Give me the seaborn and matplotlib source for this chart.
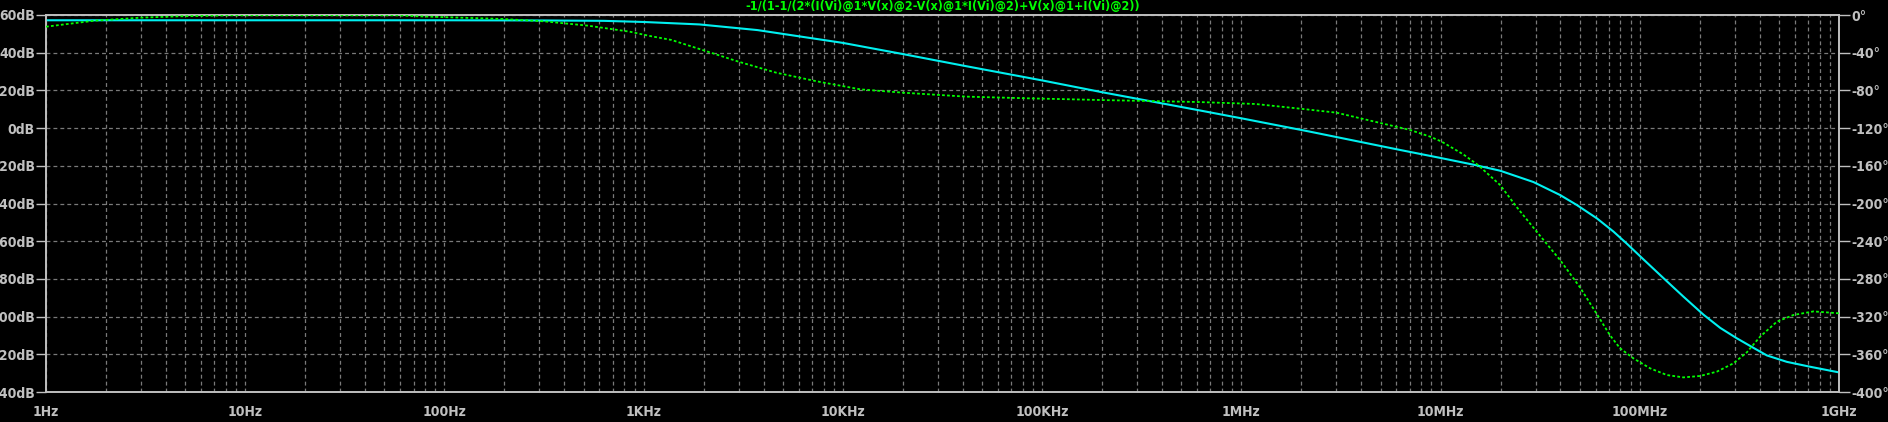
"""Bode plot of the loop expression, LTspice style."""

import numpy as np
import pandas as pd
import seaborn as sns
import matplotlib.pyplot as plt
from matplotlib import font_manager
from matplotlib.ticker import FixedLocator, NullFormatter, LogLocator

TITLE = "-1/(1-1/(2*(I(Vi)@1*V(x)@2-V(x)@1*I(Vi)@2)+V(x)@1+I(Vi)@2))"

# magnitude trace (log10 of frequency in Hz, dB)
mag_decade = [0.0, 1.0, 2.0, 2.5, 2.8, 3.0, 3.28, 3.571, 4.0, 4.3, 4.606, 5.0,
              5.303, 5.78, 6.0, 6.345, 6.797, 6.998, 7.165, 7.299, 7.466, 7.60,
              7.684, 7.785, 7.868, 7.935, 8.018, 8.119, 8.219, 8.32, 8.404,
              8.487, 8.571, 8.638, 8.738, 8.855, 9.0]
mag_db = [57.2, 57.2, 57.2, 57.1, 56.9, 56.3, 55.0, 52.0, 45.2, 39.3, 33.1, 25.3,
          19.0, 9.6, 5.2, -1.9, -11.6, -15.8, -19.4, -22.6, -28.6, -35.5,
          -40.8, -47.9, -54.9, -61.3, -69.6, -79.6, -89.4, -99.0, -106.0,
          -111.5, -116.6, -120.6, -124.0, -126.6, -129.6]

# phase trace (log10 of frequency in Hz, degrees)
ph_decade = [0.0, 0.095, 0.245, 0.477, 0.668, 0.92, 1.766, 1.87, 2.08, 2.29, 2.5,
             2.72, 2.93, 3.032, 3.14, 3.27, 3.307, 3.476, 3.665, 3.877, 4.088,
             4.3, 4.617, 4.93, 5.357, 5.78, 6.07, 6.3, 6.477, 6.666, 6.847, 6.948,
             7.006, 7.115, 7.19, 7.299, 7.383, 7.483, 7.60, 7.70, 7.785, 7.851,
             7.901, 7.968, 8.052, 8.136, 8.219, 8.303, 8.387, 8.47, 8.537, 8.604,
             8.688, 8.771, 8.872, 9.0]
ph_deg = [-12.4, -9.9, -6.0, -2.8, -1.4, -0.4, -0.4, -1.4, -2.8, -4.2, -6.7,
          -11.3, -17.7, -22.3, -26.5, -35.4, -37.9, -49.5, -61.2, -70.7, -78.9,
          -82.4, -86.6, -88.4, -90.5, -92.3, -94.4, -99.5, -103.6, -113, -122, -129.1,
          -134.4, -148.0, -159.5, -180.4, -204.0, -230.0, -260.0, -289.0, -317.5, -340.0,
          -353.6, -364.3, -374.9, -382, -384.5, -383, -378.4, -369.6, -358, -341.3,
          -325.4, -318.3, -314.5, -316.5]

freq_ticks = [1e0, 1e1, 1e2, 1e3, 1e4, 1e5, 1e6, 1e7, 1e8, 1e9]
freq_labels = ["1Hz", "10Hz", "100Hz", "1KHz", "10KHz", "100KHz",
               "1MHz", "10MHz", "100MHz", "1GHz"]
db_ticks = list(range(60, -141, -20))
deg_ticks = list(range(0, -401, -40))

FG = "#c0c0c0"
GRID = "#7a7a7a"

sns.set_theme(style="dark")
names = {f.name for f in font_manager.fontManager.ttflist}
condensed = [n for n in ("Liberation Sans Narrow", "DejaVu Sans Condensed") if n in names]
plt.rcParams["font.family"] = condensed + ["DejaVu Sans"]
plt.rcParams["font.stretch"] = "condensed"
plt.rcParams["lines.scale_dashes"] = False

mag_df = pd.DataFrame({"f": np.power(10.0, mag_decade), "db": mag_db})
ph_df = pd.DataFrame({"f": np.power(10.0, ph_decade), "deg": ph_deg})

W, H = 1888, 422
fig = plt.figure(figsize=(W / 100, H / 100), dpi=100, facecolor="black")
left, right, top, bottom = 46, 1839, 15, 392
ax = fig.add_axes([left / W, (H - bottom) / H, (right - left) / W, (bottom - top) / H])
ax.set_facecolor("black")
ax2 = ax.twinx()

sns.lineplot(data=mag_df, x="f", y="db", ax=ax, color="#00f0f0", lw=1.5,
             sort=False, estimator=None, zorder=3)
sns.lineplot(data=ph_df, x="f", y="deg", ax=ax2, color="#00ff00", lw=1.3,
             sort=False, estimator=None, zorder=3)
ax2.lines[0].set_dashes((2.0, 1.6))

ax.set_xscale("log")
ax.set_xlim(1, 1e9)
ax.set_ylim(-140, 60)
ax2.set_ylim(-400, 0)

# grid: decades + 2..9 minors, horizontal at each major
ax.xaxis.set_major_locator(FixedLocator(freq_ticks))
ax.xaxis.set_minor_locator(LogLocator(base=10, subs=np.arange(2, 10), numticks=50))
ax.xaxis.set_minor_formatter(NullFormatter())
ax.set_xticks(freq_ticks, freq_labels)
ax.set_yticks(db_ticks, [f"{v}dB" for v in db_ticks])
ax2.set_yticks(deg_ticks, [f"{v}\u00b0" for v in deg_ticks])

gkw = dict(color=GRID, lw=0.9, linestyle=(0, (2.8, 2.2)))
ax.grid(True, which="major", axis="both", **gkw)
ax.grid(True, which="minor", axis="x", **gkw)
ax2.grid(False)

ax.tick_params(axis="x", which="major", colors=FG, length=4, width=1, pad=5,
               labelsize=10, direction="out")
ax.tick_params(axis="x", which="minor", colors=FG, length=4, width=1, direction="inout")
ax.tick_params(axis="y", colors=FG, length=7, width=1, pad=1, labelsize=10)
ax2.tick_params(axis="y", colors=FG, length=8, width=1, pad=1, labelsize=10)
for lab in ax.get_xticklabels() + ax.get_yticklabels() + ax2.get_yticklabels():
    lab.set_fontweight("bold")

for a in (ax, ax2):
    for s in a.spines.values():
        s.set_visible(True)
        s.set_color(FG)
        s.set_linewidth(1.2)
    a.set_xlabel("")
    a.set_ylabel("")
    if a.get_legend():
        a.get_legend().remove()

fig.text((left + right) / 2 / W, 1 - 6.5 / H, TITLE, ha="center", va="center",
         color="#00ff00", fontsize=9, fontweight="bold")

fig.savefig("out.png", dpi=100, facecolor="black")
